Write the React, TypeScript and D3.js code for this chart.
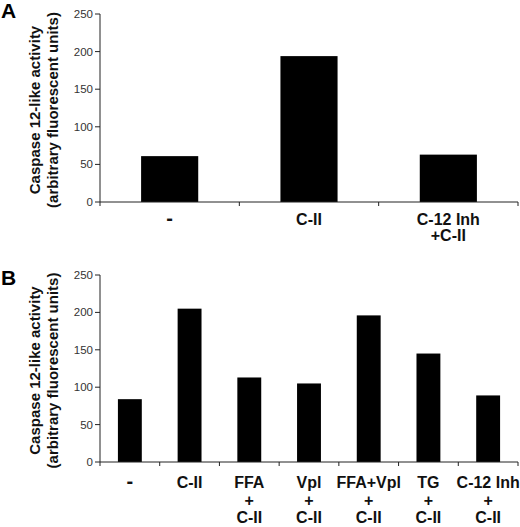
import React from "react";
import * as d3 from "d3";

const catsA: string[][] = [["-"], ["C-II"], ["C-12 Inh", "+C-II"]];
const valsA: number[] = [61, 194, 63];
const catsB: string[][] = [
  ["-"],
  ["C-II"],
  ["FFA", "+", "C-II"],
  ["Vpl", "+", "C-II"],
  ["FFA+Vpl", "+", "C-II"],
  ["TG", "+", "C-II"],
  ["C-12 Inh", "+", "C-II"],
];
const valsB: number[] = [84, 205, 113, 105, 196, 145, 89];
const yTicks: number[] = [0, 50, 100, 150, 200, 250];
const yTitle: string[] = ["Caspase 12-like activity", "(arbitrary fluorescent units)"];

const FONT = "'Liberation Sans', Arial, sans-serif";

type PanelProps = {
  letter: string;
  letterY: number;
  top: number;
  bottom: number;
  cats: string[][];
  vals: number[];
  barFrac: number;
  lineGap: number;
  firstLineDy: number;
};

function Panel({ letter, letterY, top, bottom, cats, vals, barFrac, lineGap, firstLineDy }: PanelProps) {
  const left = 100;
  const right = 518;
  const y = d3.scaleLinear().domain([0, 250]).range([bottom, top]);
  const x = d3
    .scaleBand<number>()
    .domain(d3.range(cats.length))
    .range([left, right])
    .padding(0);
  const bw = x.bandwidth() * barFrac;
  const titleCenter = (top + bottom) / 2 + 2;
  const boundaries = d3.range(cats.length + 1).map((i) => left + i * x.step());
  return (
    <g>
      <text x={1} y={letterY} fontFamily={FONT} fontWeight="bold" fontSize={21} fill="#000">
        {letter}
      </text>
      {yTitle.map((t, i) => (
        <text
          key={i}
          transform={`translate(${40 + i * 18},${titleCenter}) rotate(-90)`}
          textAnchor="middle"
          fontFamily={FONT}
          fontWeight="bold"
          fontSize={15}
          fill="#111"
        >
          {t}
        </text>
      ))}
      {vals.map((v, i) => (
        <rect
          key={i}
          x={(x(i) as number) + (x.bandwidth() - bw) / 2}
          y={y(v)}
          width={bw}
          height={y(0) - y(v)}
          fill="#000"
        />
      ))}
      <line x1={left} x2={left} y1={y(250)} y2={y(0)} stroke="#222" strokeWidth={1} />
      <line x1={left} x2={right} y1={y(0)} y2={y(0)} stroke="#222" strokeWidth={1} />
      {yTicks.map((t) => (
        <g key={t}>
          <line x1={left - 5} x2={left} y1={y(t)} y2={y(t)} stroke="#222" />
          <text
            x={left - 7}
            y={y(t)}
            dy="0.35em"
            textAnchor="end"
            fontFamily={FONT}
            fontSize={11.5}
            fill="#333"
          >
            {t}
          </text>
        </g>
      ))}
      {boundaries.map((bx, i) => (
        <line key={i} x1={bx} x2={bx} y1={y(0)} y2={y(0) + 4} stroke="#222" />
      ))}
      {cats.map((lines, i) => (
        <text
          key={i}
          textAnchor="middle"
          fontFamily={FONT}
          fontWeight="bold"
          fontSize={16}
          fill="#111"
        >
          {lines.map((l, j) => (
            <tspan
              key={j}
              x={(x(i) as number) + x.bandwidth() / 2}
              y={bottom + firstLineDy + j * lineGap}
              fontSize={l === "-" ? 20 : 16}
            >
              {l}
            </tspan>
          ))}
        </text>
      ))}
    </g>
  );
}

export default function App() {
  return (
    <svg
      width={520}
      height={527}
      style={{ position: "absolute", left: 0, top: 0, background: "#fff" }}
    >
      <rect width={520} height={527} fill="#fff" />
      <Panel
        letter="A"
        letterY={18}
        top={14}
        bottom={202}
        cats={catsA}
        vals={valsA}
        barFrac={0.41}
        lineGap={15.5}
        firstLineDy={23}
      />
      <Panel
        letter="B"
        letterY={285}
        top={275}
        bottom={462}
        cats={catsB}
        vals={valsB}
        barFrac={0.4}
        lineGap={17.5}
        firstLineDy={26}
      />
    </svg>
  );
}
